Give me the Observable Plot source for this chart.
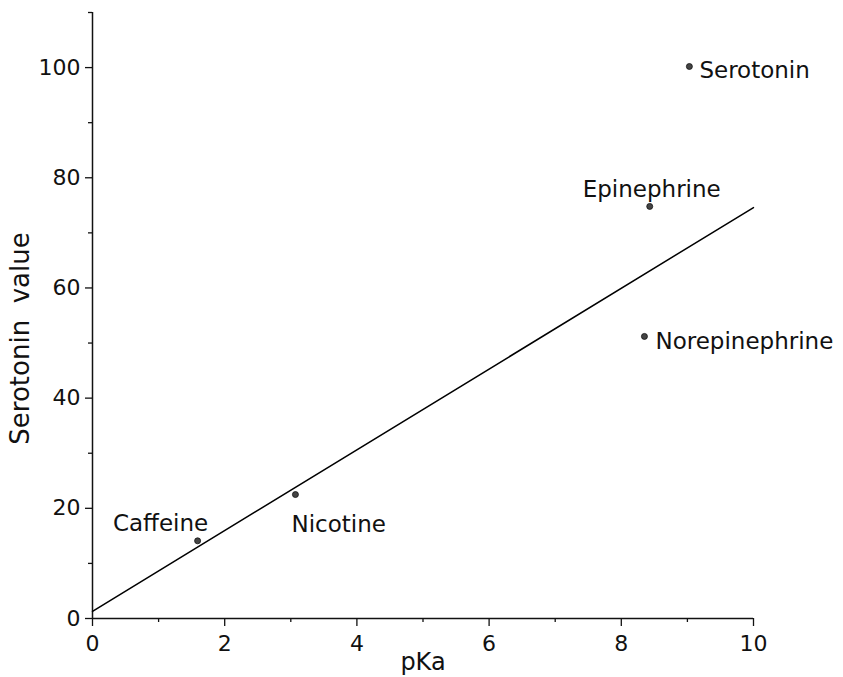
<!DOCTYPE html>
<html><head><meta charset="utf-8">
<script src="https://cdn.jsdelivr.net/npm/d3@7"></script>
<script src="https://cdn.jsdelivr.net/npm/@observablehq/plot@0.6"></script>
<style>
body{margin:0;background:#fff}
svg text{white-space:pre}
</style>
</head><body><div id="chart"></div>
<script>
const compounds = ["Caffeine", "Nicotine", "Epinephrine", "Norepinephrine", "Serotonin"];
const pKa = [1.59, 3.07, 8.43, 8.35, 9.03];
const serotoninValue = [14.1, 22.5, 74.8, 51.2, 100.2];
const fitX = [0, 10];
const fitY = [1.3, 74.6];
const xTicks = [0, 2, 4, 6, 8, 10];
const xMinorTicks = [1, 3, 5, 7, 9];
const yTicks = [0, 20, 40, 60, 80, 100];
const yMinorTicks = [10, 30, 50, 70, 90, 110];
const xLabel = "pKa";
const yLabel = "Serotonin  value";

const points = compounds.map((name, i) => ({name, x: pKa[i], y: serotoninValue[i]}));
const fit = fitX.map((x, i) => ({x, y: fitY[i]}));
const label = (name, opts) => Plot.text(points.filter(d => d.name === name),
  {x: "x", y: "y", text: "name", fontSize: 23, fill: "#111", ...opts});

const chart = Plot.plot({
  width: 843, height: 677,
  marginLeft: 92, marginRight: 90, marginTop: 12, marginBottom: 59,
  style: {fontFamily: "DejaVu Sans", fontSize: "22px", color: "#111", background: "#fff"},
  x: {domain: [0, 10]},
  y: {domain: [0, 110]},
  marks: [
    Plot.axisX({ticks: xTicks, tickSize: 8, tickPadding: 9, fontSize: 22, strokeWidth: 1.3, label: null}),
    Plot.axisX({ticks: xMinorTicks, tickSize: 4, tickFormat: () => "", strokeWidth: 1.3, label: null}),
    Plot.axisY({ticks: yTicks, tickSize: 7, tickPadding: 5, fontSize: 22, strokeWidth: 1.3, label: null}),
    Plot.axisY({ticks: yMinorTicks, tickSize: 4, tickFormat: () => "", strokeWidth: 1.3, label: null}),
    Plot.ruleY([0], {stroke: "#111", strokeWidth: 1.5}),
    Plot.ruleX([0], {stroke: "#111", strokeWidth: 1.5}),
    Plot.line(fit, {x: "x", y: "y", stroke: "#000", strokeWidth: 1.5}),
    Plot.dot(points, {x: "x", y: "y", r: 3, fill: "#444", stroke: "#111", strokeWidth: 0.8}),
    label("Caffeine", {textAnchor: "end", dx: 10.6, dy: -17}),
    label("Nicotine", {textAnchor: "start", dx: -4, dy: 30}),
    label("Epinephrine", {textAnchor: "middle", dx: 2, dy: -17}),
    label("Norepinephrine", {textAnchor: "start", dx: 11, dy: 4.7}),
    label("Serotonin", {textAnchor: "start", dx: 10, dy: 4}),
    Plot.text([xLabel], {frameAnchor: "bottom", textAnchor: "middle", lineAnchor: "middle", dy: 44, fontSize: 24, fill: "#111"}),
    Plot.text([yLabel], {frameAnchor: "left", textAnchor: "middle", lineAnchor: "middle", rotate: -90, dx: -72, dy: 23, fontSize: 26, fill: "#111"})
  ]
});
document.getElementById("chart").append(chart);
</script>
</body></html>
